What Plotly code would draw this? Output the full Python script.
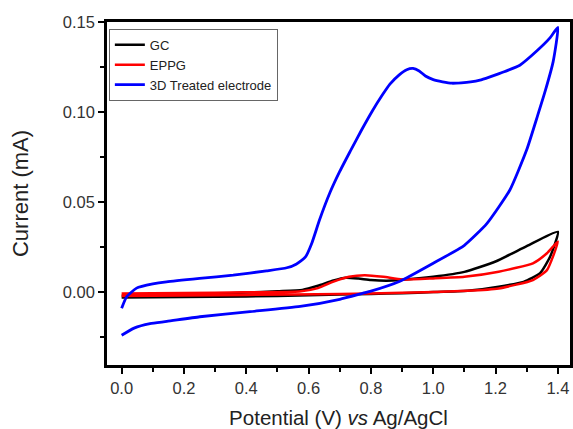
import plotly.graph_objects as go

# GC (black)
gc_x = [0.00, 0.10, 0.20, 0.30, 0.40, 0.50, 0.58, 0.63, 0.68, 0.72, 0.76, 0.80, 0.85, 0.90, 1.00, 1.10, 1.20, 1.30, 1.40,
        1.375, 1.343, 1.29, 1.21, 1.11, 1.00, 0.90, 0.80, 0.60, 0.40, 0.20, 0.00]
gc_y = [-0.0020, -0.0018, -0.0015, -0.0010, -0.0003, 0.0005, 0.0012, 0.0035, 0.0065, 0.0080, 0.0075, 0.0067, 0.0063, 0.0068,
        0.0085, 0.0112, 0.0170, 0.0255, 0.0335,
        0.0196, 0.0105, 0.0057, 0.0030, 0.0008, 0.0000, -0.0006, -0.0010, -0.0018, -0.0024, -0.0028, -0.0030]

# EPPG (red)
eppg_x = [0.00, 0.20, 0.40, 0.57, 0.63, 0.68, 0.73, 0.78, 0.84, 0.90, 1.00, 1.10, 1.21, 1.32, 1.365, 1.40,
          1.365, 1.32, 1.21, 1.11, 0.90, 0.70, 0.40, 0.20, 0.00]
eppg_y = [-0.0008, -0.0005, -0.0001, 0.0003, 0.0022, 0.0058, 0.0085, 0.0094, 0.0085, 0.0070, 0.0076, 0.0085, 0.0113, 0.0160,
          0.0216, 0.0280,
          0.0122, 0.0067, 0.0020, 0.0007, -0.0004, -0.0010, -0.0016, -0.0019, -0.0022]

# 3D Treated electrode (blue)
td_x = [0.00, 0.016, 0.048, 0.10, 0.144, 0.25, 0.358, 0.465, 0.53, 0.56, 0.59, 0.61, 0.635, 0.668, 0.70, 0.733, 0.77,
        0.806, 0.835, 0.861, 0.89, 0.915, 0.935, 0.955, 0.975, 1.00, 1.03, 1.06, 1.09, 1.12, 1.15, 1.18, 1.23, 1.278,
        1.333, 1.374, 1.40,
        1.385, 1.36, 1.335, 1.30, 1.246, 1.172, 1.10, 1.00, 0.893, 0.80, 0.775, 0.70, 0.573, 0.412, 0.251, 0.145,
        0.091, 0.04, 0.00]
td_y = [-0.0090, -0.0026, 0.0022, 0.0045, 0.0057, 0.0076, 0.0094, 0.0118, 0.0135, 0.0155, 0.0195, 0.0270, 0.0400,
        0.0550, 0.0670, 0.0780, 0.0900, 0.1010, 0.1090, 0.1155, 0.1205, 0.1235, 0.1242, 0.1228, 0.1200, 0.1180, 0.1168,
        0.1160, 0.1162, 0.1167, 0.1177, 0.1194, 0.1225, 0.1260, 0.1340, 0.1410, 0.1470,
        0.1280, 0.1120, 0.0980, 0.0790, 0.0567, 0.0380, 0.0260, 0.0160, 0.0060, 0.0005, -0.0006, -0.0040, -0.0080,
        -0.0109, -0.0137, -0.0163, -0.0175, -0.0200, -0.0240]

x_ticks = [0.0, 0.2, 0.4, 0.6, 0.8, 1.0, 1.2, 1.4]
y_ticks = [0.00, 0.05, 0.10, 0.15]

fig = go.Figure()
fig.add_trace(go.Scatter(x=gc_x, y=gc_y, mode="lines", name="GC",
                         line=dict(color="black", width=2.5, shape="spline", smoothing=0.5)))
fig.add_trace(go.Scatter(x=eppg_x, y=eppg_y, mode="lines", name="EPPG",
                         line=dict(color="red", width=2.5, shape="spline", smoothing=0.5)))
fig.add_trace(go.Scatter(x=td_x, y=td_y, mode="lines", name="3D Treated electrode",
                         line=dict(color="blue", width=2.8, shape="spline", smoothing=0.5)))

font = "Arial, Liberation Sans, sans-serif"
fig.update_layout(
    width=573, height=429,
    margin=dict(l=107, r=3, t=22, b=64),
    paper_bgcolor="white", plot_bgcolor="white",
    font=dict(family=font, color="#222"),
    showlegend=True,
    legend=dict(x=0.004, y=0.98, xanchor="left", yanchor="top",
                bordercolor="#666", borderwidth=1, bgcolor="white",
                font=dict(size=13, color="#222"), tracegroupgap=0),
    xaxis=dict(range=[-0.047, 1.439], tickvals=x_ticks, tickformat=".1f", automargin=False,
               ticks="outside", ticklen=6, tickwidth=2, tickcolor="black",
               showline=True, linewidth=2.5, linecolor="black", mirror=True,
               showgrid=False, zeroline=False,
               tickfont=dict(size=16.5, color="#333"),
               minor=dict(dtick=0.1, tick0=0, ticks="outside", ticklen=4, tickwidth=2, tickcolor="black", showgrid=False),
               title=dict(text="Potential (V) <i>vs</i> Ag/AgCl", font=dict(size=20.5, color="#222"), standoff=16)),
    yaxis=dict(range=[-0.0405, 0.15], tickvals=y_ticks, tickformat=".2f", automargin=False,
               ticks="outside", ticklen=6, tickwidth=2, tickcolor="black",
               showline=True, linewidth=2.5, linecolor="black", mirror=True,
               showgrid=False, zeroline=False,
               tickfont=dict(size=16.5, color="#333"),
               minor=dict(dtick=0.025, tick0=0, ticks="outside", ticklen=4, tickwidth=2, tickcolor="black", showgrid=False),
               title=dict(text="Current (mA)", font=dict(size=22, color="#222"), standoff=29)),
)

fig.write_html("out.html", config={"displayModeBar": False},
               post_script="document.body.style.margin='0';document.body.style.overflow='hidden';")
